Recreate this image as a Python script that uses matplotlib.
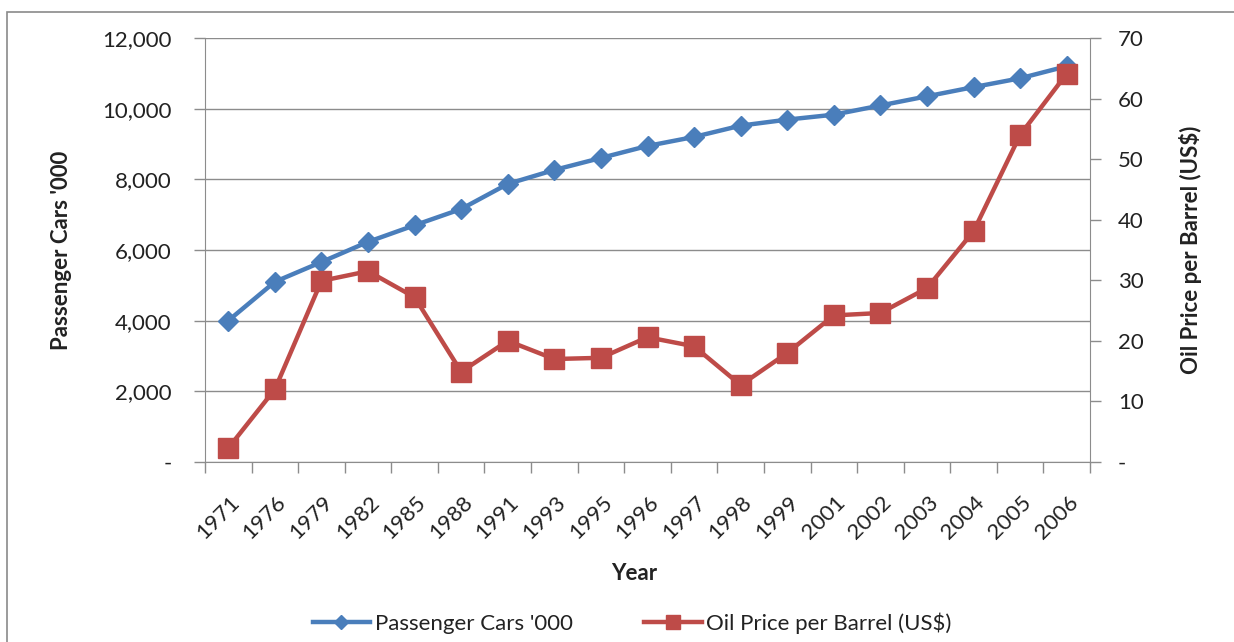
import matplotlib
matplotlib.use("Agg")
import matplotlib.pyplot as plt
from matplotlib.ticker import FuncFormatter
from matplotlib.patches import Rectangle
import matplotlib.transforms as mtransforms

years = ["1971", "1976", "1979", "1982", "1985", "1988", "1991", "1993", "1995",
         "1996", "1997", "1998", "1999", "2001", "2002", "2003", "2004", "2005", "2006"]
passenger_cars = [4000, 5100, 5660, 6230, 6700, 7160, 7870, 8265, 8605,
                  8945, 9200, 9520, 9690, 9830, 10090, 10350, 10610, 10860, 11200]
oil_price = [2.3, 12.0, 29.9, 31.5, 27.2, 14.9, 20.0, 17.0, 17.2,
             20.6, 19.1, 12.7, 18.0, 24.2, 24.6, 28.7, 38.1, 54.0, 64.1]

BLUE = "#4A7EBB"
RED = "#BE4B48"
GRID = "#8C8C8C"
TEXT = "#222222"
FONT = "Lato"

plt.rcParams["font.family"] = [FONT, "DejaVu Sans"]

fig = plt.figure(figsize=(12.34, 6.42), dpi=100)
fig.patch.set_facecolor("white")

# outer chart frame
fig.add_artist(Rectangle((7 / 1234, -0.05), 1.2, 1 - 12 / 642 + 0.05,
                         transform=fig.transFigure, fill=False,
                         edgecolor="#8A8A8A", linewidth=1.2))

ax = fig.add_axes([205 / 1234, (642 - 462) / 642, 885 / 1234, 424 / 642])
ax2 = ax.twinx()

x = list(range(len(years)))
ax.plot(x, passenger_cars, color=BLUE, linewidth=3.2, marker="D",
        markersize=10, markeredgecolor=BLUE, label="Passenger Cars '000", zorder=3)
ax2.plot(x, oil_price, color=RED, linewidth=3.2, marker="s",
         markersize=14, markeredgecolor=RED, label="Oil Price per Barrel (US$)", zorder=3)

ax.set_xlim(-0.5, len(years) - 0.5)
ax.set_ylim(0, 12000)
ax2.set_ylim(0, 70)
ax.set_yticks(range(0, 12001, 2000))
ax2.set_yticks(range(0, 71, 10))

ax.yaxis.set_major_formatter(FuncFormatter(lambda v, p: "-" if v == 0 else f"{int(v):,}"))
ax2.yaxis.set_major_formatter(FuncFormatter(lambda v, p: "-" if v == 0 else f"{int(v)}"))

ax.set_axisbelow(True)
ax.grid(axis="y", color=GRID, linewidth=1.0)

for a in (ax, ax2):
    a.spines["top"].set_visible(False)
    a.spines["left"].set_color(GRID)
    a.spines["right"].set_color(GRID)
    a.spines["bottom"].set_color(GRID)
ax.spines["right"].set_visible(False)
ax2.spines["left"].set_visible(False)
ax2.spines["bottom"].set_visible(False)

ax.tick_params(axis="y", length=8, width=1, color=GRID, labelsize=16, labelcolor=TEXT, pad=16)
ax2.tick_params(axis="y", length=8, width=1, color=GRID, labelsize=16, labelcolor=TEXT, pad=12)

# category boundaries as tick marks, labels at centers
ax.set_xticks([i - 0.5 for i in range(len(years) + 1)])
ax.set_xticklabels([])
ax.tick_params(axis="x", which="major", length=8, width=1, color=GRID)
ax.set_xticks(x, minor=True)
ax.set_xticklabels(years, minor=True, rotation=45, ha="right", va="top",
                   rotation_mode="anchor", fontsize=16, color=TEXT)
ax.tick_params(axis="x", which="minor", length=0, pad=22)
offset = mtransforms.ScaledTranslation(1 / 100, 0, fig.dpi_scale_trans)
for lbl in ax.xaxis.get_minorticklabels():
    lbl.set_transform(lbl.get_transform() + offset)

fig.text(62 / 1234, 1 - 250 / 642, "Passenger Cars '000", fontsize=16, fontweight="bold",
         color=TEXT, ha="center", va="center", rotation=90)
fig.text(1190 / 1234, 1 - 250 / 642, "Oil Price per Barrel (US$)", fontsize=16,
         fontweight="bold", color=TEXT, ha="center", va="center", rotation=90)
fig.text(634 / 1234, 1 - 573 / 642, "Year", fontsize=16, fontweight="bold",
         color=TEXT, ha="center", va="center")

h1, l1 = ax.get_legend_handles_labels()
h2, l2 = ax2.get_legend_handles_labels()
leg = fig.legend(h1 + h2, l1 + l2, loc="center", bbox_to_anchor=(632 / 1234, 1 - 623 / 642),
                 ncol=2, frameon=False, fontsize=16, handlelength=2.6, columnspacing=3.2,
                 handletextpad=0.2, markerscale=0.75)
for t in leg.get_texts():
    t.set_color(TEXT)

fig.savefig("out.png", dpi=100, facecolor="white")
